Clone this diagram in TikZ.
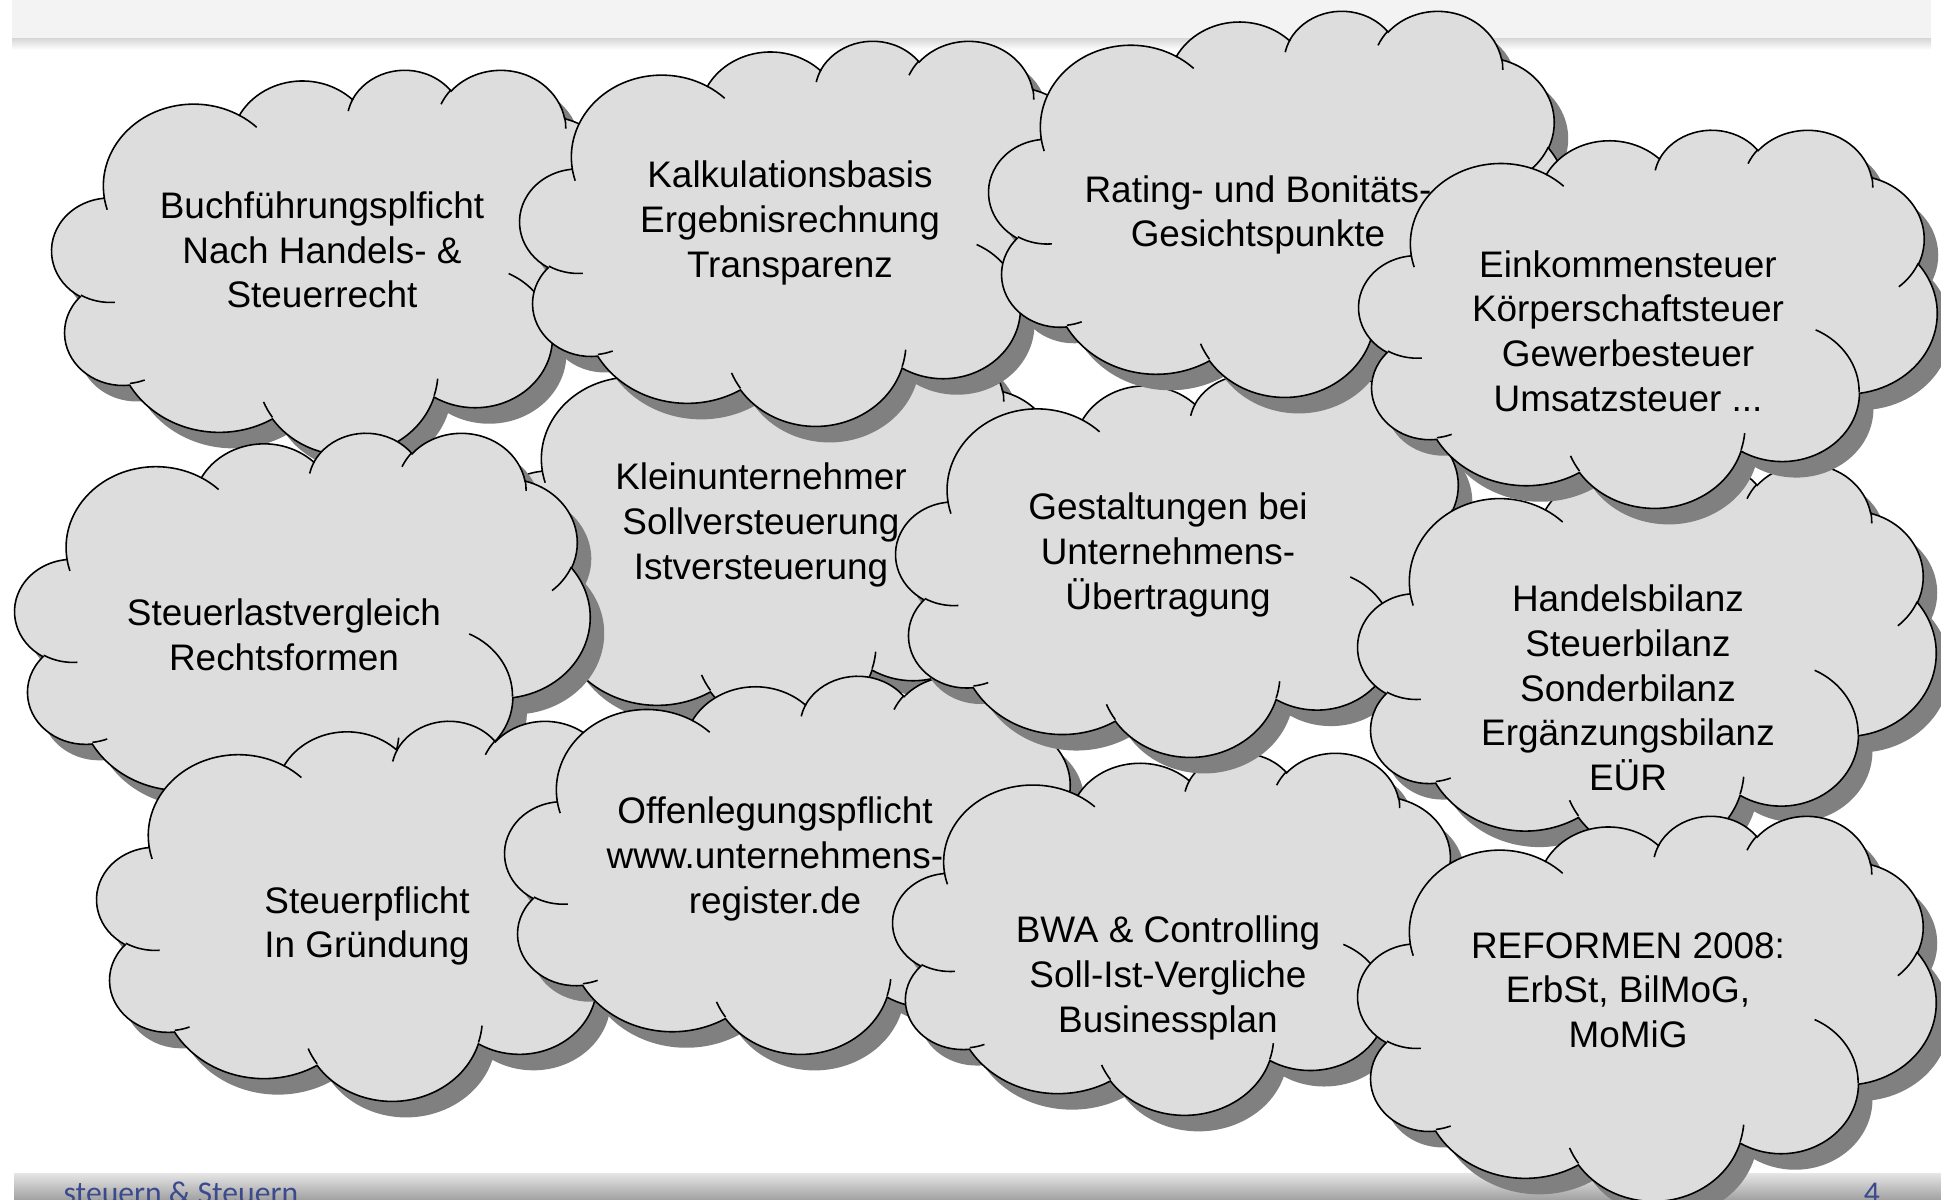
\documentclass[tikz,border=0pt]{standalone}
\usepackage{fontspec}
\setmainfont{Liberation Sans}
\newfontfamily\fussfont{Carlito}

\definecolor{wolkengrau}{HTML}{DDDDDD}
\definecolor{schattengrau}{HTML}{808080}
\definecolor{kopfgrau}{HTML}{F3F3F3}
\definecolor{fussblau}{HTML}{3B4A8C}

% Umriss einer Wolke, Einheiten 0..432
\newcommand{\wolkenrand}[1]{#1 (39.00,143.70)
  arc[start angle=172.25, delta angle=128.11, x radius=67.53, y radius=91.90]
  arc[start angle=-152.02, delta angle=106.57, x radius=53.33, y radius=72.67]
  arc[start angle=-153.48, delta angle=116.16, x radius=43.65, y radius=59.45]
  arc[start angle=-139.71, delta angle=129.49, x radius=48.57, y radius=65.95]
  arc[start angle=-74.77, delta angle=97.98, x radius=53.33, y radius=72.73]
  arc[start angle=-37.55, delta angle=119.41, x radius=67.75, y radius=92.20]
  arc[start angle=0.46, delta angle=121.52, x radius=57.85, y radius=78.67]
  arc[start angle=16.84, delta angle=129.42, x radius=67.52, y radius=92.15]
  arc[start angle=58.98, delta angle=91.21, x radius=77.20, y radius=105.43]
  arc[start angle=83.31, delta angle=139.80, x radius=43.60, y radius=59.18]
  arc[start angle=120.36, delta angle=143.75, x radius=43.45, y radius=59.45]
  -- cycle;}

\newcommand{\wolkeninnen}[1]{#1
  (46.93,261.77) arc[start angle=85.55, delta angle=34.81, x radius=43.45, y radius=59.45]
  (69.28,348.99) arc[start angle=68.24, delta angle=15.07, x radius=43.60, y radius=59.18]
  (164.78,390.90) arc[start angle=146.26, delta angle=12.21, x radius=67.52, y radius=92.15]
  (288.27,347.51) arc[start angle=4.74, delta angle=12.10, x radius=67.52, y radius=92.15]
  (341.29,229.54) arc[start angle=-64.03, delta angle=64.49, x radius=57.85, y radius=78.67]
  (417.98,153.54) arc[start angle=23.21, delta angle=26.43, x radius=53.33, y radius=72.73]
  (383.24,54.26) arc[start angle=-10.22, delta angle=11.04, x radius=48.57, y radius=65.95]
  (290.78,39.52) arc[start angle=-156.29, delta angle=16.58, x radius=48.57, y radius=65.95]
  (221.41,47.20) arc[start angle=-167.72, delta angle=14.24, x radius=43.65, y radius=59.45]
  (140.00,51.92) arc[start angle=-59.64, delta angle=13.89, x radius=67.53, y radius=91.90]
  (41.27,157.89) arc[start angle=163.19, delta angle=9.06, x radius=67.53, y radius=91.90];}

% #1,#2 links oben, #3 Breite, #4 Hoehe
\newcommand{\wolke}[4]{%
  \begin{scope}[shift={(#1+14,#2+16)}, x=#3*0.01cm/432, y=-#4*0.01cm/432]
    \wolkenrand{\fill[wschatten]}
  \end{scope}
  \begin{scope}[shift={(#1,#2)}, x=#3*0.01cm/432, y=-#4*0.01cm/432]
    \wolkenrand{\filldraw[wflaeche]}
    \wolkeninnen{\draw[wlinie]}
  \end{scope}}

\begin{document}
\begin{tikzpicture}[x=0.01cm, y=-0.01cm,
  wflaeche/.style={fill=wolkengrau, draw=black, line width=0.45pt},
  wlinie/.style={draw=black, line width=0.45pt},
  wschatten/.style={fill=schattengrau},
  wtext/.style={align=center, inner sep=0pt, font=\fontsize{10.5}{12.7}\selectfont},
  fusstext/.style={inner sep=0pt, text=fussblau, font=\fussfont\fontsize{9}{10}\selectfont}]
  \useasboundingbox (0,0) rectangle (1941,1199);
  \clip (0,0) rectangle (1941,1199);

  \fill[kopfgrau] (12,0) rectangle (1931,38);
  \shade[top color=black!16, bottom color=white] (12,38) rectangle (1931,50);
  \shade[top color=black!10, bottom color=black!36] (14,1173) rectangle (1941,1199);
  \node[fusstext, anchor=base west] (fuss) at (63,1203) {steuern \& Steuern};
  \node[fusstext, anchor=base] (seite) at (1872,1203) {4};

  \wolke{490}{342}{578}{385}
  \node[wtext] (klein) at (761,525) {Kleinunternehmer\\Sollversteuerung\\Istversteuerung};
  \wolke{52}{69}{578}{385}
  \node[wtext] (buch) at (322,250) {Buchführungsplficht\\Nach Handels- \&\\Steuerrecht};
  \wolke{15}{432}{575}{380}
  \node[wtext] (last) at (284,635) {Steuerlastvergleich\\Rechtsformen};
  \wolke{97}{720}{577}{380}
  \node[wtext] (pflicht) at (367,926) {Steuerpflicht\\In Gründung};
  \wolke{505}{675}{578}{378}
  \node[wtext] (offen) at (775,859) {Offenlegungspflicht\\www.unternehmens-\\register.de};
  \wolke{893}{752}{570}{362}
  \node[wtext] (bwa) at (1168,978) {BWA \& Controlling\\Soll-Ist-Vergliche\\Businessplan};
  \wolke{896}{374}{575}{382}
  \node[wtext] (gestalt) at (1168,555) {Gestaltungen bei\\Unternehmens-\\Übertragung};
  \wolke{520}{40}{578}{385}
  \node[wtext] (kalk) at (790,223) {Kalkulationsbasis\\Ergebnisrechnung\\Transparenz};
  \wolke{989}{10}{578}{386}
  \node[wtext] (rating) at (1258,215) {Rating- und Bonitäts-\\Gesichtspunkte};
  \wolke{1358}{463}{578}{390}
  \node[wtext] (bilanz) at (1628,688) {Handelsbilanz\\Steuerbilanz\\Sonderbilanz\\Ergänzungsbilanz\\EÜR};
  \wolke{1359}{129}{578}{378}
  \node[wtext] (steuer) at (1628,331) {Einkommensteuer\\Körperschaftsteuer\\Gewerbesteuer\\Umsatzsteuer ...};
  \wolke{1358}{815}{578}{385}
  \node[wtext] (reform) at (1628,990) {REFORMEN 2008:\\ErbSt, BilMoG,\\MoMiG};
\end{tikzpicture}
\end{document}
